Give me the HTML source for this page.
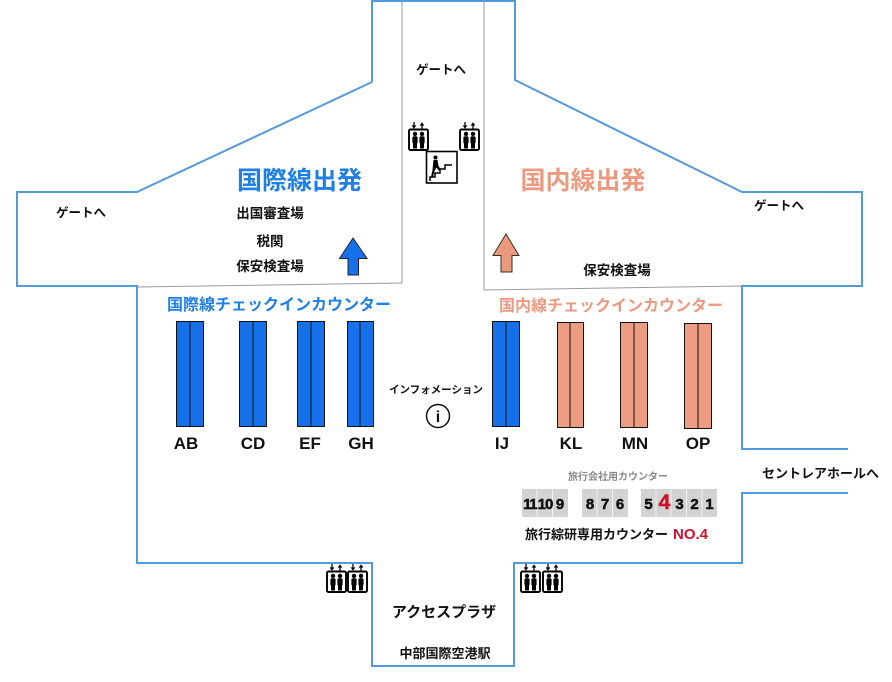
<!DOCTYPE html>
<html lang="ja">
<head>
<meta charset="utf-8">
<style>
  html, body { margin:0; padding:0; background:#fff; }
  svg { display:block; }
  text { font-family: "Liberation Sans", "Noto Sans CJK JP", sans-serif; font-weight:bold; }
</style>
</head>
<body>
<svg width="892" height="682" viewBox="0 0 892 682" xmlns="http://www.w3.org/2000/svg">
  <defs>
    <g id="elev">
      <line x1="6" y1="0" x2="6" y2="4.5" stroke="#000" stroke-width="1.3"/>
      <polygon points="3.6,3.4 8.4,3.4 6,6.7" fill="#000"/>
      <line x1="14" y1="2.5" x2="14" y2="7" stroke="#000" stroke-width="1.3"/>
      <polygon points="11.6,3.6 16.4,3.6 14,0.3" fill="#000"/>
      <rect x="1" y="7.5" width="19" height="20.5" rx="1.5" fill="#fff" stroke="#000" stroke-width="1.9"/>
      <circle cx="7" cy="11.9" r="2.2" fill="#000"/>
      <rect x="4.4" y="14.2" width="5.2" height="7.5" rx="1.6" fill="#000"/>
      <rect x="5" y="19" width="4" height="7.5" fill="#000"/>
      <circle cx="14" cy="11.9" r="2.2" fill="#000"/>
      <rect x="11.4" y="14.2" width="5.2" height="7.5" rx="1.6" fill="#000"/>
      <rect x="12" y="19" width="4" height="7.5" fill="#000"/>
    </g>
  </defs>

  <!-- gray inner lines -->
  <g stroke="#9a9a9a" stroke-width="1" fill="none">
    <line x1="402" y1="0" x2="402" y2="283"/>
    <line x1="137" y1="287" x2="402" y2="283"/>
    <line x1="484" y1="0" x2="484" y2="290"/>
    <line x1="484" y1="290" x2="742" y2="286"/>
  </g>

  <!-- blue outline -->
  <g stroke="#5599dd" stroke-width="2" fill="none" stroke-linejoin="miter">
    <path d="M372,82 L372,1 L515,1 L515,80 L742,192 L862,192 L862,286 L742,286 L742,449 L848,449"/>
    <path d="M848,493 L742,493 L742,563 L514,563 L514,666 L372,666 L372,563 L137,563 L137,286 L17,286 L17,192 L137,192 L372,82"/>
  </g>

  <!-- top gate -->
  <text x="441" y="74" font-size="12.5" text-anchor="middle" fill="#111">ゲートへ</text>
  <use href="#elev" x="408" y="122"/>
  <use href="#elev" x="459" y="122"/>
  <!-- stairs -->
  <rect x="426.5" y="151.5" width="30.5" height="31.5" fill="#fff" stroke="#000" stroke-width="1.6"/>
  <polyline points="430,181 430,177 435,177 435,173 440,173 440,169 445,169 445,165 452,165" fill="none" stroke="#000" stroke-width="1.5"/>
  <circle cx="435.5" cy="157.5" r="2" fill="#000"/>
  <path d="M433.5,160 L437.5,160 L438.5,166 L440.5,169 L438.5,170.5 L436.5,167.5 L434.5,171 L433,177 L431,177 L432.5,170 Z" fill="#000"/>

  <!-- left international -->
  <text x="81" y="217" font-size="12.5" text-anchor="middle" fill="#111">ゲートへ</text>
  <text x="299.5" y="189" font-size="25" text-anchor="middle" fill="#1e7fe6">国際線出発</text>
  <text x="270" y="218" font-size="13.5" text-anchor="middle" fill="#111">出国審査場</text>
  <text x="270" y="246" font-size="13.5" text-anchor="middle" fill="#111">税関</text>
  <text x="270" y="271" font-size="13.5" text-anchor="middle" fill="#111">保安検査場</text>
  <path d="M353,238 L339.5,258.5 L348,258.5 L348,275 L358.5,275 L358.5,258.5 L367,258.5 Z" fill="#1670ea" stroke="#223" stroke-width="1"/>

  <!-- right domestic -->
  <text x="583" y="189" font-size="25" text-anchor="middle" fill="#eb9a80">国内線出発</text>
  <text x="779" y="210" font-size="12.5" text-anchor="middle" fill="#111">ゲートへ</text>
  <text x="617" y="275" font-size="13.5" text-anchor="middle" fill="#111">保安検査場</text>
  <path d="M506,234 L493,255.5 L501,255.5 L501,272 L512,272 L512,255.5 L519,255.5 Z" fill="#ec9a7e" stroke="#332" stroke-width="1"/>

  <!-- checkin headers -->
  <text x="279" y="310" font-size="16" text-anchor="middle" fill="#1e7fe6">国際線チェックインカウンター</text>
  <text x="611" y="311" font-size="16" text-anchor="middle" fill="#eb9a80">国内線チェックインカウンター</text>

  <!-- counters -->
  <g stroke="#111" stroke-width="1">
    <rect x="176.5" y="321.5" width="27" height="105" fill="#1670ea"/>
    <line x1="190" y1="321.5" x2="190" y2="426.5"/>
    <rect x="239.5" y="321.5" width="27" height="105" fill="#1670ea"/>
    <line x1="253" y1="321.5" x2="253" y2="426.5"/>
    <rect x="297.5" y="321.5" width="27" height="105" fill="#1670ea"/>
    <line x1="311" y1="321.5" x2="311" y2="426.5"/>
    <rect x="347.5" y="321.5" width="26" height="105" fill="#1670ea"/>
    <line x1="360" y1="321.5" x2="360" y2="426.5"/>
    <rect x="492.5" y="321.5" width="27" height="105" fill="#1670ea"/>
    <line x1="506" y1="321.5" x2="506" y2="426.5"/>
    <rect x="557.5" y="322.5" width="26" height="105" fill="#ec9d82"/>
    <line x1="570" y1="322.5" x2="570" y2="427.5"/>
    <rect x="620.5" y="322.5" width="27" height="105" fill="#ec9d82"/>
    <line x1="634" y1="322.5" x2="634" y2="427.5"/>
    <rect x="684.5" y="323.5" width="27" height="105" fill="#ec9d82"/>
    <line x1="698" y1="323.5" x2="698" y2="428.5"/>
  </g>
  <g font-size="17" text-anchor="middle" fill="#111">
    <text x="186" y="449">AB</text>
    <text x="253" y="449">CD</text>
    <text x="310" y="449">EF</text>
    <text x="361" y="449">GH</text>
    <text x="502" y="449">IJ</text>
    <text x="571" y="449">KL</text>
    <text x="635" y="449">MN</text>
    <text x="698" y="449">OP</text>
  </g>

  <!-- information -->
  <text x="436" y="393" font-size="10.5" text-anchor="middle" fill="#111">インフォメーション</text>
  <circle cx="438" cy="416" r="11.5" fill="#fff" stroke="#111" stroke-width="1.5"/>
  <text x="438" y="422" font-size="16" text-anchor="middle" fill="#111">i</text>

  <!-- travel counters -->
  <text x="618" y="480" font-size="10" text-anchor="middle" fill="#888">旅行会社用カウンター</text>
  <g fill="#d3d3d3">
    <rect x="522" y="489" width="46" height="28"/>
    <rect x="582" y="489" width="46" height="28"/>
    <rect x="641" y="489" width="76" height="28"/>
  </g>
  <g stroke="#f2f2f2" stroke-width="1">
    <line x1="537" y1="489" x2="537" y2="517"/>
    <line x1="552.5" y1="489" x2="552.5" y2="517"/>
    <line x1="597" y1="489" x2="597" y2="517"/>
    <line x1="612.5" y1="489" x2="612.5" y2="517"/>
    <line x1="656" y1="489" x2="656" y2="517"/>
    <line x1="671" y1="489" x2="671" y2="517"/>
    <line x1="686.5" y1="489" x2="686.5" y2="517"/>
    <line x1="702" y1="489" x2="702" y2="517"/>
  </g>
  <g font-size="15" text-anchor="middle" fill="#111" stroke="#111" stroke-width="0.5">
    <text x="529.5" y="509" letter-spacing="-1.5">11</text>
    <text x="545" y="509" letter-spacing="-1">10</text>
    <text x="560" y="509">9</text>
    <text x="590" y="509">8</text>
    <text x="605" y="509">7</text>
    <text x="620" y="509">6</text>
    <text x="648.5" y="509">5</text>
    <text x="664.5" y="509" font-size="21" fill="#d0112b" stroke="#d0112b">4</text>
    <text x="679.5" y="509">3</text>
    <text x="694.5" y="509">2</text>
    <text x="709.5" y="509">1</text>
  </g>
  <text x="525" y="539" font-size="13" fill="#111">旅行綜研専用カウンター<tspan dx="5" font-size="15" fill="#d0112b">NO.4</tspan></text>

  <!-- centrair hall -->
  <text x="762" y="478" font-size="13" fill="#111">セントレアホールへ</text>

  <!-- bottom -->
  <use href="#elev" x="326" y="564"/>
  <use href="#elev" x="347" y="564"/>
  <use href="#elev" x="520" y="564"/>
  <use href="#elev" x="542" y="564"/>
  <text x="444" y="617" font-size="15" text-anchor="middle" fill="#111">アクセスプラザ</text>
  <text x="445" y="658" font-size="13" text-anchor="middle" fill="#111">中部国際空港駅</text>
</svg>
</body>
</html>
